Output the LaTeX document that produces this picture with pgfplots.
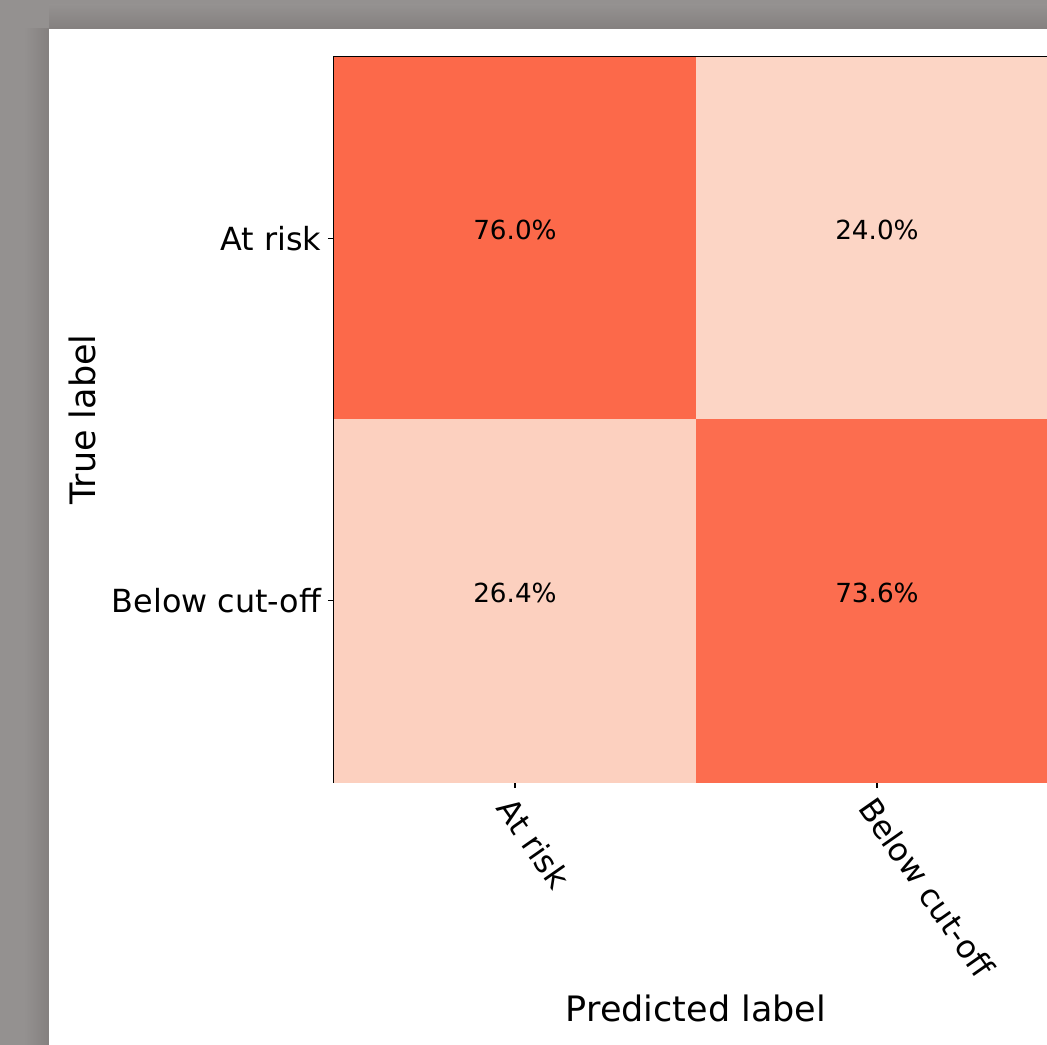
\documentclass[border=0pt]{standalone}
\usepackage{pgfplots}
\pgfplotsset{compat=1.18}
\usepackage{fontspec}
\setmainfont{DejaVu Sans}
\definecolor{bggray}{RGB}{148,145,144}
\definecolor{bgdark}{RGB}{132,128,127}
\begin{document}
\begin{tikzpicture}
\useasboundingbox (0pt,0pt) rectangle (598.286pt,597.143pt);
\clip (0pt,0pt) rectangle (598.286pt,597.143pt);
\begin{scope}[x=0.5714286pt,y=0.5714286pt]
\fill[bggray] (0,0) rectangle (1047,1045);
\shade[left color=bggray,right color=bgdark] (24,0) rectangle (49,1016);
\shade[bottom color=bgdark,top color=bggray] (49,1016) rectangle (1047,1040);
\fill[white] (49,0) rectangle (1047,1016);
\end{scope}
\begin{axis}[
  at={(190.857pt,150.286pt)}, anchor=south west,
  scale only axis, width=413.71pt, height=414.29pt,
  xmin=-0.5, xmax=1.5, ymin=-0.5, ymax=1.5, y dir=reverse,
  xtick={0,1}, ytick={0,1},
  xticklabels={At risk,Below cut-off},
  yticklabels={At risk,Below cut-off},
  xtick pos=bottom, ytick pos=left,
  tick align=outside, major tick length=3.5pt,
  every tick/.style={black, line width=0.8pt},
  axis line style={black, line width=0.8pt},
  xticklabel style={font=\fontsize{18.2}{21}\selectfont, rotate=-55, anchor=north west, inner sep=0pt},
  yticklabel style={font=\fontsize{18.2}{21}\selectfont, anchor=east, inner sep=0pt},
  xticklabel shift=3.5pt, yticklabel shift=3.5pt,
  xlabel={Predicted label}, ylabel={True label},
  xlabel style={font=\fontsize{20}{24}\selectfont, at={(axis description cs:0.5,-0.3297)}, anchor=base},
  ylabel style={font=\fontsize{20}{24}\selectfont, at={(axis description cs:-0.3301,0.5)}, anchor=base},
  colormap={cm}{rgb255(0cm)=(252,213,197) rgb255(1cm)=(252,105,74)},
  point meta min=0.24, point meta max=0.76,
  clip=false,
]
\addplot[matrix plot*, mesh/cols=2, point meta=explicit] table[meta=v] {
x y v
0 0 0.760
1 0 0.240
0 1 0.264
1 1 0.736
};
\addplot[only marks, mark=none, nodes near coords, point meta=explicit symbolic,
  nodes near coords style={font=\fontsize{15}{18}\selectfont, anchor=center, yshift=4.57pt, black}]
coordinates {(0,0) [76.0\%] (1,0) [24.0\%] (0,1) [26.4\%] (1,1) [73.6\%]};
\end{axis}
\end{tikzpicture}
\end{document}
